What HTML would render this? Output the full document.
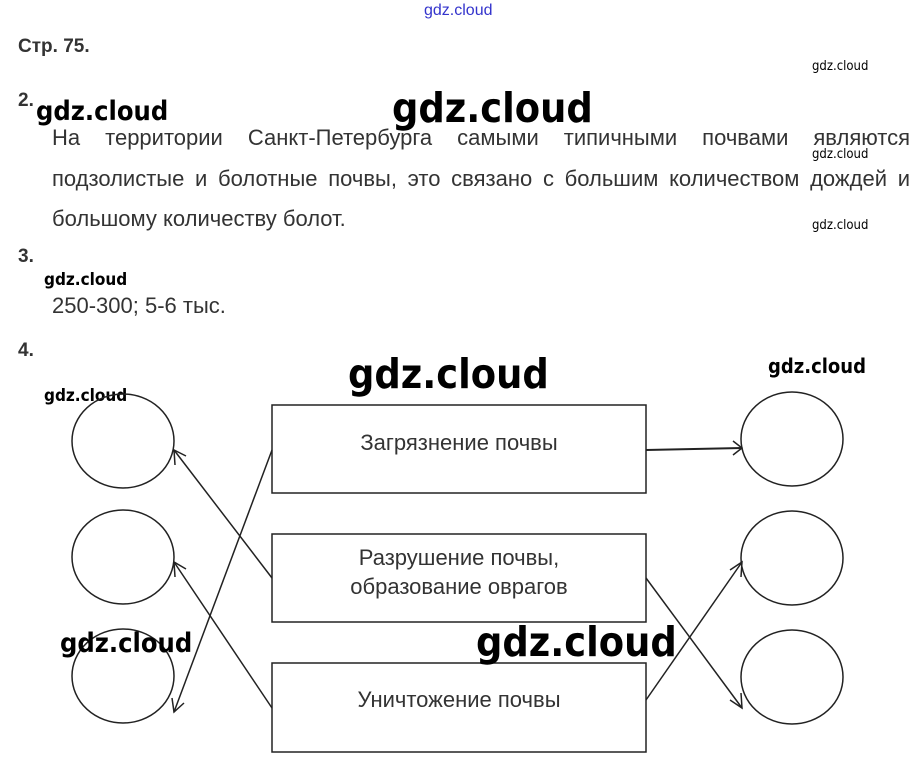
<!DOCTYPE html>
<html><head><meta charset="utf-8"><style>
body{margin:0;width:924px;height:774px;background:#fff;position:relative;overflow:hidden;font-family:"Liberation Sans",sans-serif;}
.t{position:absolute;white-space:nowrap;color:#333;}
.b{font-size:22px !important;}
.w{position:absolute;white-space:nowrap;color:#000;font-family:"DejaVu Sans Condensed","Liberation Sans",sans-serif;}
.wb{font-weight:bold;}
</style></head><body>
<div class="t" style="left:424px;top:2px;font-size:16px;color:#3333cc;">gdz.cloud</div>
<div class="t" style="left:18px;top:36px;font-size:19px;font-weight:bold;color:#333">Стр. 75.</div>
<div class="w" style="left:812px;top:59px;font-size:13px;">gdz.cloud</div>
<div class="t" style="left:18px;top:90px;font-size:19px;font-weight:bold;">2.</div>
<div class="w wb" style="left:36px;top:96px;font-size:27px;">gdz.cloud</div>
<div class="w wb" style="left:392px;top:84px;font-size:41px;">gdz.cloud</div>
<div class="t b" style="left:52px;top:125px;width:858px;text-align:justify;text-align-last:justify;">На территории Санкт-Петербурга самыми типичными почвами являются</div>
<div class="w" style="left:812px;top:147px;font-size:13px;">gdz.cloud</div>
<div class="t b" style="left:52px;top:166px;width:858px;text-align:justify;text-align-last:justify;">подзолистые и болотные почвы, это связано с большим количеством дождей и</div>
<div class="t b" style="left:52px;top:206px;">большому количеству болот.</div>
<div class="w" style="left:812px;top:218px;font-size:13px;">gdz.cloud</div>
<div class="t" style="left:18px;top:246px;font-size:19px;font-weight:bold;">3.</div>
<div class="w wb" style="left:44px;top:270px;font-size:17px;">gdz.cloud</div>
<div class="t b" style="left:52px;top:293px;">250-300; 5-6 тыс.</div>
<div class="t" style="left:18px;top:340px;font-size:19px;font-weight:bold;">4.</div>
<div class="w wb" style="left:768px;top:354px;font-size:20px;">gdz.cloud</div>
<div class="w wb" style="left:44px;top:386px;font-size:17px;">gdz.cloud</div>
<svg width="924" height="774" style="position:absolute;left:0;top:0" fill="none" stroke="#222" stroke-width="1.5">
<rect x="272" y="405" width="374" height="88"/>
<rect x="272" y="534" width="374" height="88"/>
<rect x="272" y="663" width="374" height="89"/>
<ellipse cx="123" cy="441" rx="51" ry="47"/>
<ellipse cx="123" cy="557" rx="51" ry="47"/>
<ellipse cx="123" cy="676" rx="51" ry="47"/>
<ellipse cx="792" cy="439" rx="51" ry="47"/>
<ellipse cx="792" cy="558" rx="51" ry="47"/>
<ellipse cx="792" cy="677" rx="51" ry="47"/>
<line x1="272" y1="450" x2="174" y2="712"/><polyline points="172,698 174,712 184,703"/>
<line x1="272" y1="578" x2="174" y2="450"/><polyline points="175,465 174,450 186,456"/>
<line x1="272" y1="708" x2="174" y2="562"/><polyline points="175,577 174,562 186,569"/>
<line x1="646" y1="450" x2="742" y2="448" stroke-width="2"/><polyline points="733,441 742,448 733,455"/>
<line x1="646" y1="578" x2="742" y2="708"/><polyline points="741,693 742,708 730,700"/>
<line x1="646" y1="700" x2="742" y2="562"/><polyline points="730,570 742,562 741,577"/>
</svg>
<div class="t b" style="left:272px;top:430px;width:374px;text-align:center;">Загрязнение почвы</div>
<div class="t b" style="left:272px;top:543px;width:374px;text-align:center;line-height:29px;">Разрушение почвы,<br>образование оврагов</div>
<div class="t b" style="left:272px;top:687px;width:374px;text-align:center;">Уничтожение почвы</div>
<div class="w wb" style="left:348px;top:350px;font-size:41px;">gdz.cloud</div>
<div class="w wb" style="left:60px;top:628px;font-size:27px;">gdz.cloud</div>
<div class="w wb" style="left:476px;top:618px;font-size:41px;">gdz.cloud</div>
</body></html>
